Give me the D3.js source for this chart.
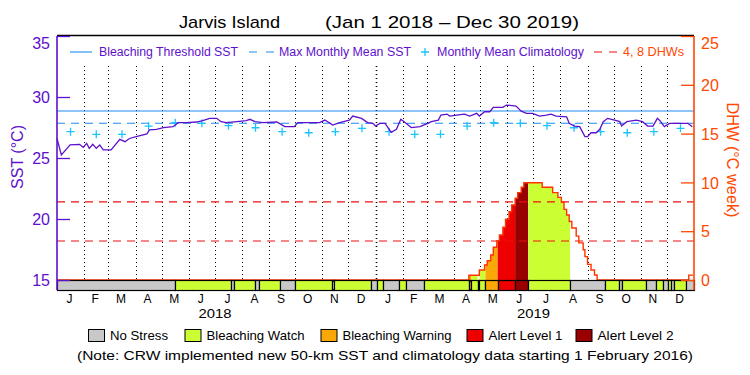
<!DOCTYPE html>
<html>
<head>
<meta charset="utf-8">
<script src="https://cdn.jsdelivr.net/npm/d3@7"></script>
<style>
body { margin: 0; background: #fff; }
text { font-family: "Liberation Sans", Arial, sans-serif; }
</style>
</head>
<body>
<svg id="chart" width="750" height="375"></svg>
<script>
// values
const monthNames = ["J", "F", "M", "A", "M", "J", "J", "A", "S", "O", "N", "D"]
const yearLabels = ["2018", "2019"]
const sstTicks = [15, 20, 25, 30, 35]
const dhwTicks = [0, 5, 10, 15, 20, 25]
const mmm = 27.85
const threshold = 28.85
const dhwLevels = [4, 8]
const climatology = [27.16, 26.94, 26.94, 27.62, 27.89, 27.84, 27.65, 27.48, 27.16, 27.07, 27.16, 27.43]

const sstDates = ["2018-01-01", "2018-01-06", "2018-01-16", "2018-01-27", "2018-01-31", "2018-02-04", "2018-02-07", "2018-02-11", "2018-02-15", "2018-02-19", "2018-02-23", "2018-03-04", "2018-03-14", "2018-03-20", "2018-03-25", "2018-04-04", "2018-04-14", "2018-04-17", "2018-04-25", "2018-05-03", "2018-05-14", "2018-05-20", "2018-05-29", "2018-06-10", "2018-06-17", "2018-06-25", "2018-07-03", "2018-07-08", "2018-07-14", "2018-07-26", "2018-08-06", "2018-08-10", "2018-08-16", "2018-08-25", "2018-09-10", "2018-09-19", "2018-09-30", "2018-10-04", "2018-10-29", "2018-11-04", "2018-11-13", "2018-11-21", "2018-12-02", "2018-12-06", "2018-12-16", "2018-12-23", "2018-12-29",
  "2019-01-01", "2019-01-06", "2019-01-12", "2019-01-19", "2019-01-25", "2019-01-30", "2019-02-05", "2019-02-11", "2019-02-21", "2019-03-02", "2019-03-06", "2019-03-14", "2019-03-17", "2019-03-24", "2019-03-27", "2019-04-04", "2019-04-13", "2019-04-19", "2019-04-27", "2019-04-30", "2019-05-06", "2019-05-12", "2019-05-16", "2019-05-27", "2019-05-31", "2019-06-11", "2019-06-17", "2019-06-23", "2019-06-30", "2019-07-08", "2019-07-16", "2019-07-21", "2019-07-27", "2019-08-08", "2019-08-11", "2019-08-17", "2019-08-23", "2019-08-29", "2019-09-01", "2019-09-05", "2019-09-11", "2019-09-15", "2019-09-19", "2019-09-24", "2019-10-02", "2019-10-08", "2019-10-10", "2019-10-16", "2019-10-27", "2019-11-03", "2019-11-09", "2019-11-15", "2019-11-20", "2019-11-23", "2019-11-28", "2019-12-04", "2019-12-25", "2019-12-30"]
const sstValues = [26.6, 25.25, 26.07, 26.12, 25.87, 26.2, 25.79, 26.12, 25.79, 26.07, 25.66, 25.66, 26.53, 26.34, 26.6, 26.8, 26.97, 27.3, 27.35, 27.49, 27.57, 27.9, 27.9, 27.95, 28.06, 28.25, 28.25, 27.98, 27.9, 27.98, 28.06, 28.17, 27.98, 27.9, 27.95, 27.57, 27.57, 27.9, 27.9, 28.11, 27.7, 27.9, 28.11, 28.44, 28.25, 27.9, 27.84,
  27.62, 27.84, 27.84, 27.1, 27.35, 28.17, 27.84, 27.49, 27.57, 27.84, 27.98, 28.11, 28.52, 28.6, 28.44, 28.52, 28.6, 28.44, 28.66, 28.44, 28.79, 28.79, 29.15, 29.15, 29.34, 29.26, 28.84, 28.66, 28.66, 28.44, 28.52, 28.6, 28.44, 28.38, 27.84, 27.62, 27.57, 26.75, 26.75, 27.07, 27.07, 27.35, 27.98, 28.25, 28.11, 27.98, 27.62, 27.98, 28.11, 27.98, 27.62, 27.62, 28.25, 28.06, 27.57, 27.84, 27.84, 27.57]

const dhwDates = ["2018-01-01", "2019-04-18", "2019-04-30", "2019-05-06", "2019-05-09", "2019-05-13", "2019-05-16", "2019-05-20", "2019-05-23", "2019-05-27", "2019-05-30", "2019-06-03", "2019-06-06", "2019-06-10", "2019-06-13", "2019-06-17", "2019-06-20", "2019-07-11", "2019-07-23", "2019-07-29", "2019-08-02", "2019-08-05", "2019-08-08", "2019-08-11", "2019-08-14", "2019-08-19", "2019-08-22", "2019-08-27", "2019-08-29", "2019-09-01", "2019-09-05", "2019-09-09", "2019-09-12", "2019-12-26", "2019-12-31"]
const dhwValues = [0, 0.48, 1.02, 1.54, 1.98, 2.56, 3.35, 4.03, 4.61, 5.4, 6.22, 7.0, 7.68, 8.37, 8.95, 9.5, 9.97, 9.5, 8.95, 8.47, 7.96, 7.24, 6.66, 6.0, 5.33, 4.5, 3.8, 3.1, 2.4, 1.6, 1.02, 0.51, 0, 0.5, 0.5]

// daily stress level bar: each entry runs until the next start
const statusStart = ["2018-01-01", "2018-05-16", "2018-07-19", "2018-07-23", "2018-08-16", "2018-08-20", "2018-09-13", "2018-10-01", "2018-11-12", "2018-11-15", "2018-12-27", "2019-01-03", "2019-01-10", "2019-01-28", "2019-02-05", "2019-02-26", "2019-04-18", "2019-04-21", "2019-04-28", "2019-04-30", "2019-05-07", "2019-05-21", "2019-06-10", "2019-06-25", "2019-08-12", "2019-09-21", "2019-10-07", "2019-10-10", "2019-11-07", "2019-11-19", "2019-11-26", "2019-12-02", "2019-12-06", "2019-12-09", "2019-12-23"]
const statusLevel = [0, 1, 0, 1, 0, 1, 0, 1, 0, 1, 0, 1, 0, 1, 0, 1, 2, 1, 0, 1, 2, 3, 4, 1, 0, 1, 0, 1, 0, 1, 0, 1, 0, 1, 0]
const statusNames = ["No Stress", "Bleaching Watch", "Bleaching Warning", "Alert Level 1", "Alert Level 2"]

const statusColors = ["#c8c8c8", "#ccff33", "#faa808", "#ee0000", "#990000"]
const purple = "#5e10cc"
const orange = "#ff4800"
const blue = "#1e8cf0"
const cyan = "#1cc4ff"
const red = "#ee1111"

let parse = d3.utcParse("%Y-%m-%d")
let sst = sstDates.map((d, i) => ({ date: parse(d), v: sstValues[i] }))
let dhw = dhwDates.map((d, i) => ({ date: parse(d), v: dhwValues[i] }))
let endDate = parse("2020-01-01")
let status = statusStart.map((d, i) => ({
    start: parse(d),
    end: i < statusStart.length - 1 ? parse(statusStart[i + 1]) : endDate,
    level: statusLevel[i]
}))

let svg = d3.select("#chart")
let pLeft = 57, pRight = 694, pTop = 36, pBottom = 280, barH = 10

let x = d3.scaleUtc().domain([parse("2018-01-01"), endDate]).range([pLeft, pRight])
let ySst = d3.scaleLinear().domain([15, 35]).range([pBottom, pTop])
let yDhw = d3.scaleLinear().domain([0, 25]).range([pBottom, pTop])

// title
svg.append("text").text("Jarvis Island")
    .attr("x", 179).attr("y", 28).attr("font-size", "17px")
    .attr("textLength", 101).attr("lengthAdjust", "spacingAndGlyphs")
svg.append("text").text("(Jan 1 2018 – Dec 30 2019)")
    .attr("x", 325).attr("y", 28).attr("font-size", "17px")
    .attr("textLength", 254).attr("lengthAdjust", "spacingAndGlyphs")

// dotted month lines
let months = d3.utcMonths(parse("2018-02-01"), endDate)
svg.append("g").selectAll("line")
    .data(months)
    .enter().append("line")
    .attr("x1", d => Math.round(x(d)) + 0.5)
    .attr("x2", d => Math.round(x(d)) + 0.5)
    .attr("y1", 66).attr("y2", pBottom)
    .attr("stroke", "black")
    .attr("stroke-width", d => d.getUTCMonth() == 0 ? 1.6 : 1)
    .attr("stroke-dasharray", "1,3")

// DHW fill coloured by stress level
let area = d3.area()
    .x(d => x(d.date))
    .y0(yDhw(0))
    .y1(d => yDhw(d.v))
    .curve(d3.curveStepAfter)

let defs = svg.append("defs")
status.forEach((s, i) => {
    if (s.level == 0) return
    defs.append("clipPath").attr("id", "clip" + i)
        .append("rect")
        .attr("x", x(s.start)).attr("width", x(s.end) - x(s.start))
        .attr("y", pTop).attr("height", pBottom - pTop)
    svg.append("path")
        .datum(dhw)
        .attr("d", area)
        .attr("fill", statusColors[s.level])
        .attr("clip-path", "url(#clip" + i + ")")
})

// 4 and 8 DHW lines
svg.append("g").selectAll("line")
    .data(dhwLevels)
    .enter().append("line")
    .attr("x1", pLeft).attr("x2", pRight)
    .attr("y1", d => yDhw(d)).attr("y2", d => yDhw(d))
    .attr("stroke", red).attr("stroke-width", 1.1)
    .attr("stroke-dasharray", "8,6")

// threshold and max monthly mean
svg.append("line")
    .attr("x1", pLeft).attr("x2", pRight)
    .attr("y1", ySst(threshold)).attr("y2", ySst(threshold))
    .attr("stroke", blue).attr("stroke-width", 1.1)
svg.append("line")
    .attr("x1", pLeft).attr("x2", pRight)
    .attr("y1", ySst(mmm)).attr("y2", ySst(mmm))
    .attr("stroke", blue).attr("stroke-width", 1.1)
    .attr("stroke-dasharray", "8,6")

// climatology crosses at mid month, both years
let climPts = []
yearLabels.forEach(yr => {
    climatology.forEach((v, m) => {
        let s = new Date(Date.UTC(+yr, m, 1))
        let e = new Date(Date.UTC(+yr, m + 1, 1))
        climPts.push({ date: new Date((+s + +e) / 2), v: v })
    })
})
svg.append("g").selectAll("path")
    .data(climPts)
    .enter().append("path")
    .attr("d", d => "M" + (x(d.date) - 4) + "," + ySst(d.v) + "h8M" + x(d.date) + "," + (ySst(d.v) - 4) + "v8")
    .attr("stroke", cyan).attr("stroke-width", 1.3)

// SST line
svg.append("path")
    .datum(sst)
    .attr("d", d3.line().x(d => x(d.date)).y(d => ySst(d.v)))
    .attr("fill", "none")
    .attr("stroke", purple)
    .attr("stroke-width", 1.3)

// DHW line
svg.append("path")
    .datum(dhw)
    .attr("d", d3.line().x(d => x(d.date)).y(d => yDhw(d.v)).curve(d3.curveStepAfter))
    .attr("fill", "none")
    .attr("stroke", "#ff3300")
    .attr("stroke-width", 1.4)

// stress level bar
svg.append("g").selectAll("rect")
    .data(status)
    .enter().append("rect")
    .attr("x", d => Math.round(x(d.start)) + 0.5)
    .attr("width", d => Math.round(x(d.end)) - Math.round(x(d.start)))
    .attr("y", pBottom + 0.5)
    .attr("height", barH)
    .attr("fill", d => statusColors[d.level])
    .attr("stroke", "black")
    .attr("stroke-width", 1.2)

// top frame
svg.append("line")
    .attr("x1", pLeft).attr("x2", pRight)
    .attr("y1", 35.5).attr("y2", 35.5)
    .attr("stroke", "black").attr("stroke-width", 1.5)

// left axis (SST)
let gL = svg.append("g").attr("transform", "translate(" + pLeft + ",0)")
gL.call(d3.axisLeft(ySst).tickValues(d3.range(15, 36)).tickSizeInner(-7).tickSizeOuter(0).tickFormat(""))
gL.call(d3.axisLeft(ySst).tickValues(sstTicks).tickSizeInner(-13).tickSizeOuter(0).tickPadding(7))
gL.attr("color", purple)
gL.selectAll("path.domain").remove()
gL.selectAll("line").attr("stroke-width", 1.3)
gL.selectAll("text")
    .attr("font-size", "16px")
    .attr("font-family", "Liberation Sans, Arial, sans-serif")
    .attr("dy", d => d == 35 ? "0.8em" : "0.36em")
svg.append("line")
    .attr("x1", pLeft).attr("x2", pLeft)
    .attr("y1", pTop).attr("y2", pBottom + barH)
    .attr("stroke", purple).attr("stroke-width", 1.6)

// right axis (DHW)
let gR = svg.append("g").attr("transform", "translate(" + pRight + ",0)")
gR.call(d3.axisRight(yDhw).tickValues(d3.range(0, 26)).tickSizeInner(-7).tickSizeOuter(0).tickFormat(""))
gR.call(d3.axisRight(yDhw).tickValues(dhwTicks).tickSizeInner(-13).tickSizeOuter(0).tickPadding(7))
gR.attr("color", orange)
gR.selectAll("path.domain").remove()
gR.selectAll("line").attr("stroke-width", 1.3)
gR.selectAll("text")
    .attr("font-size", "16px")
    .attr("font-family", "Liberation Sans, Arial, sans-serif")
    .attr("dy", d => d == 25 ? "0.8em" : "0.36em")
svg.append("line")
    .attr("x1", pRight).attr("x2", pRight)
    .attr("y1", pTop).attr("y2", pBottom + barH)
    .attr("stroke", orange).attr("stroke-width", 1.6)

// axis titles
svg.append("text").text("SST (°C)")
    .attr("transform", "translate(23,157) rotate(-90)")
    .attr("text-anchor", "middle").attr("font-size", "16px")
    .attr("fill", purple)
    .attr("textLength", 64).attr("lengthAdjust", "spacingAndGlyphs")
svg.append("text").text("DHW (°C week)")
    .attr("transform", "translate(727,160) rotate(90)")
    .attr("text-anchor", "middle").attr("font-size", "16px")
    .attr("fill", orange)
    .attr("textLength", 115).attr("lengthAdjust", "spacingAndGlyphs")

// month and year labels
let monthStarts = d3.utcMonths(parse("2018-01-01"), endDate)
svg.append("g").selectAll("text")
    .data(monthStarts)
    .enter().append("text")
    .text(d => monthNames[d.getUTCMonth()])
    .attr("x", d => (x(d) + x(d3.utcMonth.offset(d, 1))) / 2 - 1)
    .attr("y", 303)
    .attr("text-anchor", "middle")
    .attr("font-size", "12px")
svg.append("g").selectAll("text")
    .data(yearLabels)
    .enter().append("text")
    .text(d => d)
    .attr("x", d => x(parse(d + "-07-01")))
    .attr("y", 318)
    .attr("text-anchor", "middle")
    .attr("font-size", "12px")
    .attr("textLength", 33).attr("lengthAdjust", "spacingAndGlyphs")

// legend inside the plot
let lg = svg.append("g").attr("font-size", "12px")
lg.append("line").attr("x1", 70).attr("x2", 92).attr("y1", 52).attr("y2", 52)
    .attr("stroke", blue).attr("stroke-width", 1.1)
lg.append("text").text("Bleaching Threshold SST").attr("x", 99).attr("y", 56).attr("fill", purple)
    .attr("textLength", 139).attr("lengthAdjust", "spacingAndGlyphs")
lg.append("line").attr("x1", 249).attr("x2", 274).attr("y1", 52).attr("y2", 52)
    .attr("stroke", blue).attr("stroke-width", 1.1).attr("stroke-dasharray", "8,9")
lg.append("text").text("Max Monthly Mean SST").attr("x", 279).attr("y", 56).attr("fill", purple)
    .attr("textLength", 132).attr("lengthAdjust", "spacingAndGlyphs")
lg.append("path").attr("d", "M421,52h8M425,48v8").attr("stroke", cyan).attr("stroke-width", 1.3)
lg.append("text").text("Monthly Mean Climatology").attr("x", 437).attr("y", 56).attr("fill", purple)
    .attr("textLength", 147).attr("lengthAdjust", "spacingAndGlyphs")
lg.append("line").attr("x1", 594).attr("x2", 617).attr("y1", 52).attr("y2", 52)
    .attr("stroke", red).attr("stroke-width", 1.1).attr("stroke-dasharray", "8,7")
lg.append("text").text("4, 8 DHWs").attr("x", 623).attr("y", 56).attr("fill", orange)
    .attr("textLength", 61).attr("lengthAdjust", "spacingAndGlyphs")

// stress level legend
let boxX = [88.5, 185, 321, 467, 576]
let textW = [58, 98, 109, 74, 76]
let sl = svg.append("g").selectAll("g")
    .data(statusNames)
    .enter().append("g")
sl.append("rect")
    .attr("x", (d, i) => boxX[i]).attr("y", 329.5)
    .attr("width", 16).attr("height", 12)
    .attr("fill", (d, i) => statusColors[i])
    .attr("stroke", "black")
sl.append("text")
    .text(d => d)
    .attr("x", (d, i) => boxX[i] + 21.5).attr("y", 340)
    .attr("font-size", "13px")
    .attr("textLength", (d, i) => textW[i]).attr("lengthAdjust", "spacingAndGlyphs")

svg.append("text")
    .text("(Note: CRW implemented new 50-km SST and climatology data starting 1 February 2016)")
    .attr("x", 77).attr("y", 360).attr("font-size", "13px")
    .attr("textLength", 616).attr("lengthAdjust", "spacingAndGlyphs")
</script>
</body>
</html>
